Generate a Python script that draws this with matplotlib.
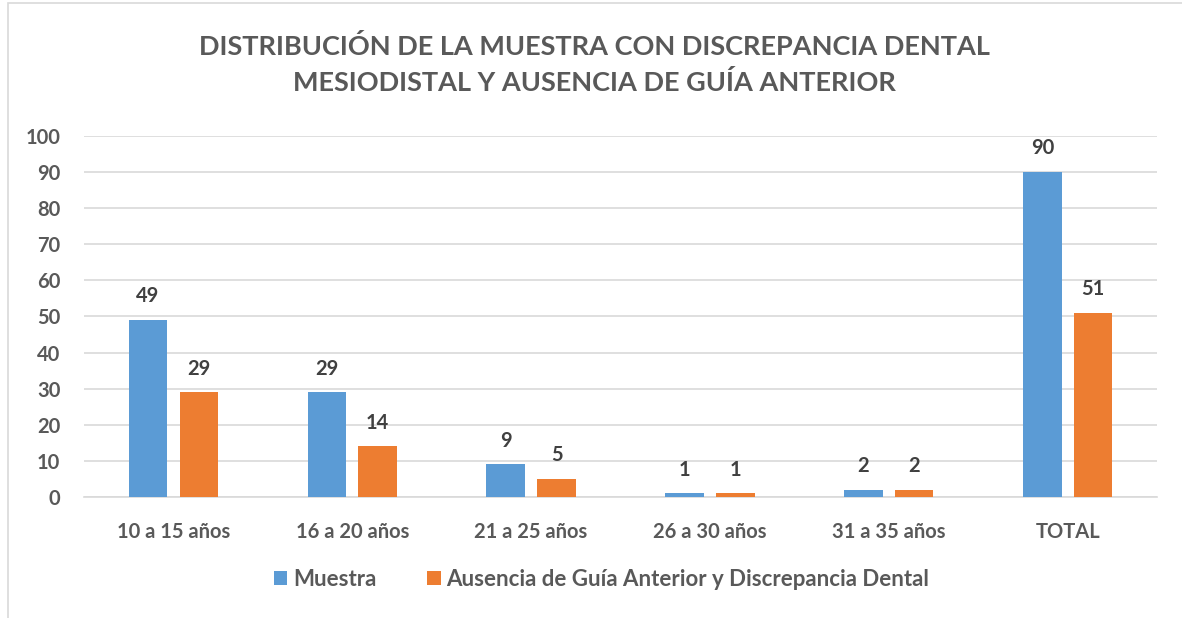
import numpy as np
import matplotlib.pyplot as plt
from matplotlib.patches import Rectangle

# Data
categories = ["10 a 15 años", "16 a 20 años", "21 a 25 años", "26 a 30 años", "31 a 35 años", "TOTAL"]
muestra = [49, 29, 9, 1, 2, 90]
ausencia = [29, 14, 5, 1, 2, 51]
series_names = ["Muestra", "Ausencia de Guía Anterior y Discrepancia Dental"]

plt.rcParams['font.family'] = ['Lato', 'DejaVu Sans']

blue = '#5B9BD5'
orange = '#ED7D31'
tick_gray = '#595959'
label_gray = '#404040'

fig = plt.figure(figsize=(11.82, 6.18), dpi=100)
ax = fig.add_axes([0.071, 0.196, 0.908, 0.584])

# Chart frame (light border like the source chart area)
fig.patches.append(Rectangle((0.007, -0.01), 1.5, 1.005, transform=fig.transFigure,
                             fill=False, edgecolor='#D9D9D9', linewidth=1.2))

x = np.arange(len(categories))
w = 0.215
off = 0.142
b1 = ax.bar(x - off, muestra, w, color=blue, label=series_names[0], zorder=3)
b2 = ax.bar(x + off, ausencia, w, color=orange, label=series_names[1], zorder=3)

for bars, vals in [(b1, muestra), (b2, ausencia)]:
    for rect, v in zip(bars, vals):
        ax.annotate(str(v), (rect.get_x() + rect.get_width() / 2, v),
                    xytext=(0, 17), textcoords='offset points', ha='center', va='center',
                    fontsize=14.5, fontweight='bold', color=label_gray)

ax.set_xlim(-0.5, len(categories) - 0.5)
ax.set_ylim(0, 100)
ax.set_yticks(np.arange(0, 101, 10))
ax.set_xticks(x)
ax.set_xticklabels(categories)
ax.tick_params(axis='both', length=0, labelsize=14.5, colors=tick_gray)
ax.tick_params(axis='x', pad=18)
ax.tick_params(axis='y', pad=17)
for lab in ax.get_xticklabels() + ax.get_yticklabels():
    lab.set_fontweight('bold')

ax.grid(axis='y', color='#D9D9D9', linewidth=1.2, zorder=0)
ax.set_axisbelow(True)
for s in ['top', 'right', 'left']:
    ax.spines[s].set_visible(False)
ax.spines['bottom'].set_color('#D9D9D9')
ax.spines['bottom'].set_linewidth(1.2)

fig.text(0.503, 0.896, "DISTRIBUCIÓN DE LA MUESTRA CON DISCREPANCIA DENTAL\nMESIODISTAL Y AUSENCIA DE GUÍA ANTERIOR",
         ha='center', va='center', fontsize=19.5, fontweight='bold', color=tick_gray, linespacing=1.5)

leg = fig.legend(loc='center', bbox_to_anchor=(0.509, 0.062), ncol=2, frameon=False,
                 handlelength=0.6, handleheight=0.6, handletextpad=0.25, columnspacing=2.3,
                 prop={'size': 16, 'weight': 'bold'})
for t in leg.get_texts():
    t.set_color(tick_gray)

plt.savefig("out.png", dpi=100)
